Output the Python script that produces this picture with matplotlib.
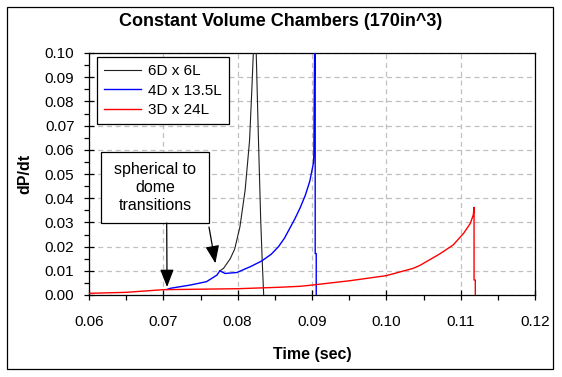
import matplotlib
matplotlib.use("Agg")
import matplotlib.pyplot as plt
from matplotlib.patches import Rectangle
from matplotlib.ticker import MultipleLocator, FormatStrFormatter

plt.rcParams['font.family'] = ['Liberation Sans', 'DejaVu Sans']

# ---- data ----
title = "Constant Volume Chambers (170in^3)"
xlabel = "Time (sec)"
ylabel = "dP/dt"
labels = ["6D x 6L", "4D x 13.5L", "3D x 24L"]

t_6d = [0.0776, 0.0781, 0.0790, 0.0796, 0.0803, 0.0810, 0.0816, 0.0819, 0.0821,
        0.0823, 0.0825, 0.0828, 0.0831, 0.0833, 0.0835]
v_6d = [0.0100, 0.0110, 0.0150, 0.0190, 0.0281, 0.0432, 0.0638, 0.0844, 0.0995,
        0.1150, 0.0995, 0.0638, 0.0309, 0.0144, 0.0000]

t_4d = [0.0705, 0.0710, 0.0736, 0.0758, 0.0772, 0.0776, 0.0783, 0.0799, 0.0817,
        0.0832, 0.0845, 0.0855, 0.0863, 0.0870, 0.0877, 0.0884, 0.0891, 0.0897,
        0.0902, 0.09025, 0.0903, 0.09043, 0.09043, 0.09057, 0.09057]
v_4d = [0.0023, 0.0028, 0.0041, 0.0055, 0.0082, 0.0100, 0.0089, 0.0093, 0.0117,
        0.0140, 0.0168, 0.0200, 0.0235, 0.0275, 0.0315, 0.0360, 0.0412, 0.0470,
        0.0546, 0.0584, 0.0823, 0.1300, 0.0171, 0.0171, 0.0000]

t_3d = [0.0600, 0.0650, 0.0700, 0.0750, 0.0800, 0.0857, 0.0884, 0.0900, 0.0951,
        0.1000, 0.1036, 0.1045, 0.1072, 0.1090, 0.1104, 0.1113, 0.1117, 0.1118,
        0.1118, 0.11197, 0.11197]
v_3d = [0.0007, 0.0011, 0.0022, 0.0024, 0.0026, 0.0032, 0.0036, 0.0041, 0.0059,
        0.0080, 0.0110, 0.0122, 0.0170, 0.0207, 0.0255, 0.0296, 0.0331, 0.0362,
        0.0062, 0.0062, 0.0000]

annotation = "spherical to\ndome\ntransitions"
arrow_tips = [(0.0705, 0.0033), (0.0770, 0.0131)]

# ---- figure ----
W, H = 562, 377
fig = plt.figure(figsize=(W / 100, H / 100), dpi=100)
fig.patch.set_facecolor('white')

# outer chart border
fig.patches.append(Rectangle((7 / W, 1 - 369 / H), 546 / W, 362 / H,
                             transform=fig.transFigure, fill=False,
                             edgecolor='black', linewidth=0.9))

L, R, T, B = 89, 535, 53, 295
ax = fig.add_axes([L / W, 1 - B / H, (R - L) / W, (B - T) / H])

ax.plot(t_6d, v_6d, color='#202020', lw=0.8, label=labels[0], zorder=3)
ax.plot(t_4d, v_4d, color='#0000ff', lw=1.0, label=labels[1], zorder=4)
ax.plot(t_3d, v_3d, color='#ff0000', lw=1.0, label=labels[2], zorder=5)

ax.set_xlim(0.06, 0.12)
ax.set_ylim(0.0, 0.10)
ax.xaxis.set_major_locator(MultipleLocator(0.01))
ax.xaxis.set_minor_locator(MultipleLocator(0.005))
ax.yaxis.set_major_locator(MultipleLocator(0.01))
ax.yaxis.set_minor_locator(MultipleLocator(0.005))
ax.xaxis.set_major_formatter(FormatStrFormatter('%.2f'))
ax.yaxis.set_major_formatter(FormatStrFormatter('%.2f'))
ax.tick_params(which='major', direction='inout', length=7, width=0.9,
               labelsize=11, colors='black')
ax.tick_params(which='minor', direction='out', length=3.5, width=0.9)
ax.tick_params(axis='x', which='major', pad=11)
ax.tick_params(axis='y', which='major', pad=7)

ax.grid(True, which='major', color='#c0c0c0', linestyle=(0, (4, 3)), lw=0.9)
for s in ax.spines.values():
    s.set_linewidth(0.9)
    s.set_color('black')

fig.text(281 / W, 1 - 21 / H, title, fontsize=13, fontweight='bold',
         ha='center', va='center')
ax.set_xlabel(xlabel, fontsize=11.5, fontweight='bold', labelpad=13)
ax.set_ylabel(ylabel, fontsize=11.5, fontweight='bold', labelpad=9)

leg = ax.legend(loc='upper left', bbox_to_anchor=((97 - L) / (R - L), (B - 57) / (B - T)),
                frameon=True, fancybox=False, edgecolor='black', framealpha=1,
                fontsize=11, handlelength=2.4, handletextpad=0.5,
                labelspacing=0.38, borderpad=0.45, borderaxespad=0)
leg.get_frame().set_linewidth(0.9)
leg.set_zorder(10)

# annotation box
bx0, bx1, by0, by1 = 101, 209, 152, 223
ax.add_patch(Rectangle(((bx0 - L) / (R - L), (B - by1) / (B - T)),
                       (bx1 - bx0) / (R - L), (by1 - by0) / (B - T),
                       transform=ax.transAxes, facecolor='white',
                       edgecolor='black', lw=0.9, zorder=8))
ax.text(((bx0 + bx1) / 2 - L) / (R - L), (B - (by0 + by1) / 2) / (B - T),
        annotation, transform=ax.transAxes, ha='center', va='center',
        fontsize=11.5, linespacing=1.25, zorder=9)

tails = [(166.7, 223), (209, 227)]
for (tx, ty), tip in zip(tails, arrow_tips):
    ax.annotate('', xy=tip, xycoords='data',
                xytext=((tx - L) / (R - L), (B - ty) / (B - T)), textcoords='axes fraction',
                arrowprops=dict(arrowstyle='-|>,head_length=0.9,head_width=0.35',
                                color='black', lw=0.9, mutation_scale=12,
                                shrinkA=0, shrinkB=0),
                zorder=9)

fig.savefig('out.png', dpi=100)
